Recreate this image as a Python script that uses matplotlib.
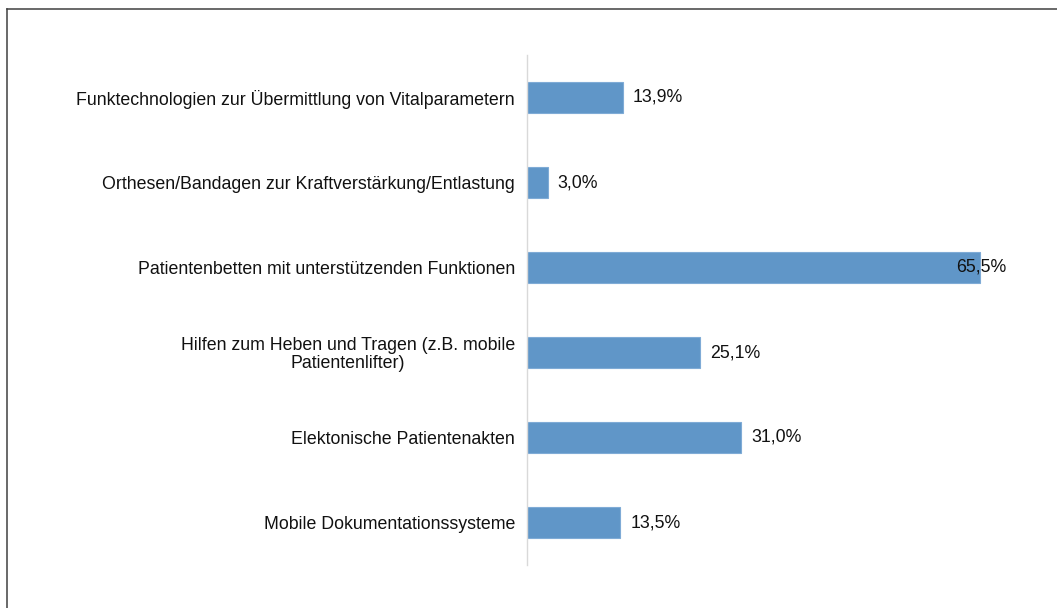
import matplotlib.pyplot as plt
from matplotlib.lines import Line2D

plt.rcParams['font.family'] = ['Liberation Sans', 'DejaVu Sans']

categories = [
	"Funktechnologien zur Übermittlung von Vitalparametern",
	"Orthesen/Bandagen zur Kraftverstärkung/Entlastung",
	"Patientenbetten mit unterstützenden Funktionen",
	"Hilfen zum Heben und Tragen (z.B. mobile\nPatientenlifter)",
	"Elektonische Patientenakten",
	"Mobile Dokumentationssysteme",
]
values = [13.9, 3.0, 65.5, 25.1, 31.0, 13.5]
value_labels = ["13,9%", "3,0%", "65,5%", "25,1%", "31,0%", "13,5%"]

W, H = 1057, 608
fs = 12.8
fig = plt.figure(figsize=(W / 100, H / 100), dpi=100)
# axes box in pixels: left 527, right 1008, top 55, bottom 565
ax = fig.add_axes([527 / W, 1 - 565 / H, (1008 - 527) / W, (565 - 55) / H])

xmax = 69.6
pos = list(range(len(values)))
ax.barh(pos, values, height=0.365, color='#6096c8', edgecolor='#7fabd6', linewidth=0.8)

ax.set_xlim(0, xmax)
ax.set_ylim(len(values) - 0.5, -0.5)

for y, v, lab in zip(pos, values, value_labels):
	# long bars get the label pulled back inside the plot area
	if v + 1.5 + 8 > xmax:
		ax.text(xmax - 0.3, y, lab, ha='right', va='center', fontsize=fs, color='#111111')
	else:
		ax.text(v + 1.45, y, lab, ha='left', va='center', fontsize=fs, color='#111111')

ax.set_yticks(pos)
ax.set_yticklabels(categories, fontsize=fs, color='#111111', multialignment='center')
for t in ax.get_yticklabels():
	t.set_linespacing(1.0)
ax.tick_params(axis='y', length=0, pad=8.6)
ax.set_xticks([])

for s in ['top', 'right', 'bottom']:
	ax.spines[s].set_visible(False)
ax.spines['left'].set_color('#d9d9d9')
ax.spines['left'].set_linewidth(1.0)

# frame lines along the top and left edge
fig.add_artist(Line2D([6.5 / W, 6.5 / W], [0, 1 - 8.5 / H], color='#404040', lw=1.1, transform=fig.transFigure))
fig.add_artist(Line2D([6.5 / W, 1], [1 - 8.5 / H, 1 - 8.5 / H], color='#404040', lw=1.1, transform=fig.transFigure))

fig.savefig('out.png', dpi=100)
